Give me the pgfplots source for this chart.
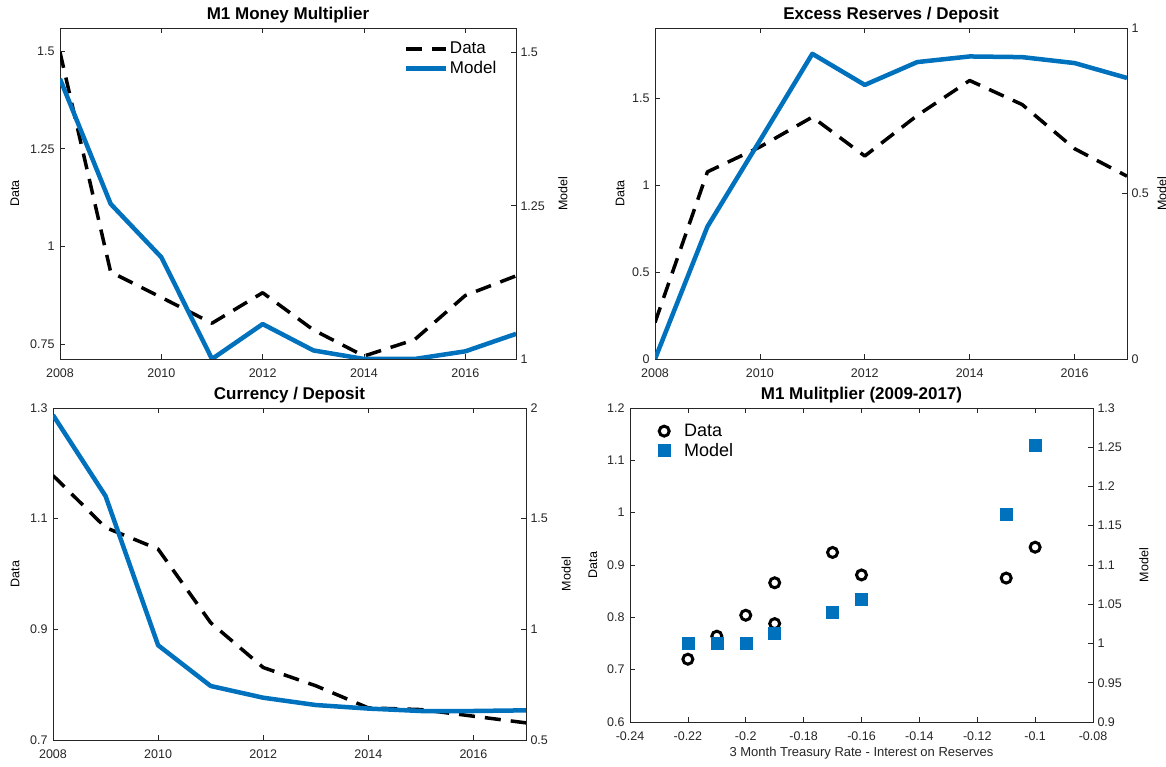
\documentclass[border=0pt]{standalone}
\usepackage{pgfplots}
\pgfplotsset{compat=1.18}
\usepackage{fontspec}
\setmainfont{Liberation Sans}
\definecolor{mblue}{RGB}{0,114,189}
\definecolor{axgray}{gray}{0.15}
\pgfplotsset{
  base/.style={scale only axis, tick align=inside, major tick length=5pt,
    axis line style={axgray, line width=0.8pt}, tick style={axgray, line width=0.7pt},
    tick label style={font=\fontsize{12.5}{14}\selectfont, text=axgray},
    xticklabel style={yshift=-6pt},
    label style={font=\fontsize{12.5}{14}\selectfont},
    title style={font=\fontsize{17}{19}\selectfont\bfseries, at={(0.5,1)}, anchor=south, yshift=-5pt},
    /pgf/number format/assume math mode=true},
  leftax/.style={base, ytick pos=left, xtick pos=both, yticklabel style={xshift=-2pt}},
  rightax/.style={base, axis x line=none, axis y line*=right, yticklabel style={xshift=1pt}},
  datastyle/.style={black, line width=3.5pt, dash pattern=on 16pt off 10pt, line join=round},
  modelstyle/.style={mblue, line width=4.5pt, line join=round},
  linelegend/.style={legend image code/.code={\draw[##1] (0pt,0pt) -- (40pt,0pt);},
    legend cell align=left,
    legend style={draw=none, fill=none, font=\fontsize{17}{19}\selectfont, row sep=2pt, inner sep=0pt,
      nodes={inner xsep=1.5pt}}},
}
\begin{document}
\begin{tikzpicture}[x=1pt,y=1pt]
\useasboundingbox (0,0) rectangle (1166,767);

% ---------------- Panel 1 ----------------
\begin{axis}[leftax, at={(60pt,408pt)}, width=456pt, height=331pt,
  xmin=2008, xmax=2017, ymin=0.7125, ymax=1.559,
  xtick={2008,2010,2012,2014,2016}, xticklabels={2008,2010,2012,2014,2016},
  ytick={0.75,1,1.25,1.5}, yticklabels={0.75,1,1.25,1.5},
  ylabel={Data}, ylabel style={at={(axis description cs:-0.099,0.5)}, anchor=center},
  title={M1 Money Multiplier}]
\addplot[datastyle] coordinates {(2008,1.497) (2009,0.935) (2010,0.870) (2011,0.804) (2012,0.882) (2013,0.787) (2014,0.720) (2015,0.762) (2016,0.875) (2017,0.925)};
\end{axis}
\begin{axis}[rightax, at={(60pt,408pt)}, width=456pt, height=331pt,
  xmin=2008, xmax=2017, ymin=1, ymax=1.540,
  ytick={1,1.25,1.5}, yticklabels={1,1.25,1.5},
  ylabel={Model}, ylabel style={at={(axis description cs:1.103,0.5)}, anchor=center},
  linelegend, legend style={at={(1,1)}, anchor=north east, xshift=-18pt, yshift=-12pt}]
\addlegendimage{datastyle}
\addlegendentry{Data}
\addplot[modelstyle] coordinates {(2008,1.457) (2009,1.253) (2010,1.166) (2011,1.0) (2012,1.057) (2013,1.014) (2014,1.0) (2015,1.0) (2016,1.0125) (2017,1.041)};
\addlegendentry{Model}
\end{axis}

% ---------------- Panel 2 ----------------
\begin{axis}[leftax, at={(655pt,408pt)}, width=472pt, height=331pt,
  xmin=2008, xmax=2017, ymin=0, ymax=1.903,
  xtick={2008,2010,2012,2014,2016}, xticklabels={2008,2010,2012,2014,2016},
  ytick={0,0.5,1,1.5}, yticklabels={0,0.5,1,1.5},
  ylabel={Data}, ylabel style={at={(axis description cs:-0.074,0.5)}, anchor=center},
  title={Excess Reserves / Deposit}]
\addplot[datastyle] coordinates {(2008,0.21) (2009,1.076) (2010,1.219) (2011,1.391) (2012,1.167) (2013,1.40) (2014,1.601) (2015,1.463) (2016,1.209) (2017,1.051)};
\end{axis}
\begin{axis}[rightax, at={(655pt,408pt)}, width=472pt, height=331pt,
  xmin=2008, xmax=2017, ymin=0, ymax=1,
  ytick={0,0.5,1}, yticklabels={0,0.5,1},
  ylabel={Model}, ylabel style={at={(axis description cs:1.074,0.5)}, anchor=center}]
\addplot[modelstyle] coordinates {(2008,0.0) (2009,0.40) (2010,0.66) (2011,0.922) (2012,0.828) (2013,0.897) (2014,0.914) (2015,0.912) (2016,0.894) (2017,0.849)};
\end{axis}

% ---------------- Panel 3 ----------------
\begin{axis}[leftax, at={(53pt,27pt)}, width=473pt, height=332pt,
  xmin=2008, xmax=2017, ymin=0.7, ymax=1.3,
  xtick={2008,2010,2012,2014,2016}, xticklabels={2008,2010,2012,2014,2016},
  ytick={0.7,0.9,1.1,1.3}, yticklabels={0.7,0.9,1.1,1.3},
  ylabel={Data}, ylabel style={at={(axis description cs:-0.08,0.5)}, anchor=center},
  title={Currency / Deposit}]
\addplot[datastyle] coordinates {(2008,1.178) (2009,1.084) (2010,1.045) (2011,0.912) (2012,0.831) (2013,0.798) (2014,0.758) (2015,0.755) (2016,0.743) (2017,0.731)};
\end{axis}
\begin{axis}[rightax, at={(53pt,27pt)}, width=473pt, height=332pt,
  xmin=2008, xmax=2017, ymin=0.5, ymax=2,
  ytick={0.5,1,1.5,2}, yticklabels={0.5,1,1.5,2},
  ylabel={Model}, ylabel style={at={(axis description cs:1.085,0.5)}, anchor=center}]
\addplot[modelstyle] coordinates {(2008,1.968) (2009,1.602) (2010,0.928) (2011,0.744) (2012,0.691) (2013,0.658) (2014,0.642) (2015,0.631) (2016,0.631) (2017,0.634)};
\end{axis}

% ---------------- Panel 4 ----------------
\begin{axis}[leftax, at={(630pt,45pt)}, width=463pt, height=314pt,
  xmin=-0.24, xmax=-0.08, ymin=0.6, ymax=1.2,
  xtick={-0.24,-0.22,-0.2,-0.18,-0.16,-0.14,-0.12,-0.1,-0.08},
  xticklabels={-0.24,-0.22,-0.2,-0.18,-0.16,-0.14,-0.12,-0.1,-0.08},
  ytick={0.6,0.7,0.8,0.9,1,1.1,1.2}, yticklabels={0.6,0.7,0.8,0.9,1,1.1,1.2},
  ylabel={Data}, ylabel style={at={(axis description cs:-0.08,0.5)}, anchor=center},
  xlabel={3 Month Treasury Rate - Interest on Reserves},
  xlabel style={at={(axis description cs:0.5,0)}, anchor=center, yshift=-31pt, text=axgray, font=\fontsize{13}{15}\selectfont},
  title={M1 Mulitplier (2009-2017)}]
\addplot[only marks, mark=o, black, mark size=5pt, line width=3pt] coordinates {(-0.22,0.720) (-0.21,0.764) (-0.2,0.804) (-0.19,0.788) (-0.19,0.866) (-0.17,0.924) (-0.16,0.881) (-0.11,0.875) (-0.1,0.934)};
\end{axis}
\begin{axis}[rightax, at={(630pt,45pt)}, width=463pt, height=314pt,
  xmin=-0.24, xmax=-0.08, ymin=0.9, ymax=1.3,
  ytick={0.9,0.95,1,1.05,1.1,1.15,1.2,1.25,1.3},
  yticklabels={0.9,0.95,1,1.05,1.1,1.15,1.2,1.25,1.3},
  ylabel={Model}, ylabel style={at={(axis description cs:1.11,0.5)}, anchor=center},
  legend cell align=left,
  legend style={draw=none, fill=none, font=\fontsize{18}{20}\selectfont, row sep=1pt, inner sep=0pt,
    at={(0,1)}, anchor=north west, xshift=28pt, yshift=-14pt, column sep=12pt,
    nodes={inner xsep=2pt}}]
\addlegendimage{only marks, mark=o, black, mark size=5pt, line width=3pt}
\addlegendentry{Data}
\addplot[only marks, mark=square*, mblue, mark options={fill=mblue, draw=mblue}, mark size=6pt, line width=0.5pt] coordinates {(-0.22,1.0) (-0.21,1.0) (-0.2,1.0) (-0.19,1.013) (-0.19,1.013) (-0.17,1.040) (-0.16,1.0565) (-0.11,1.165) (-0.1,1.252)};
\addlegendentry{Model}
\end{axis}
\end{tikzpicture}
\end{document}
